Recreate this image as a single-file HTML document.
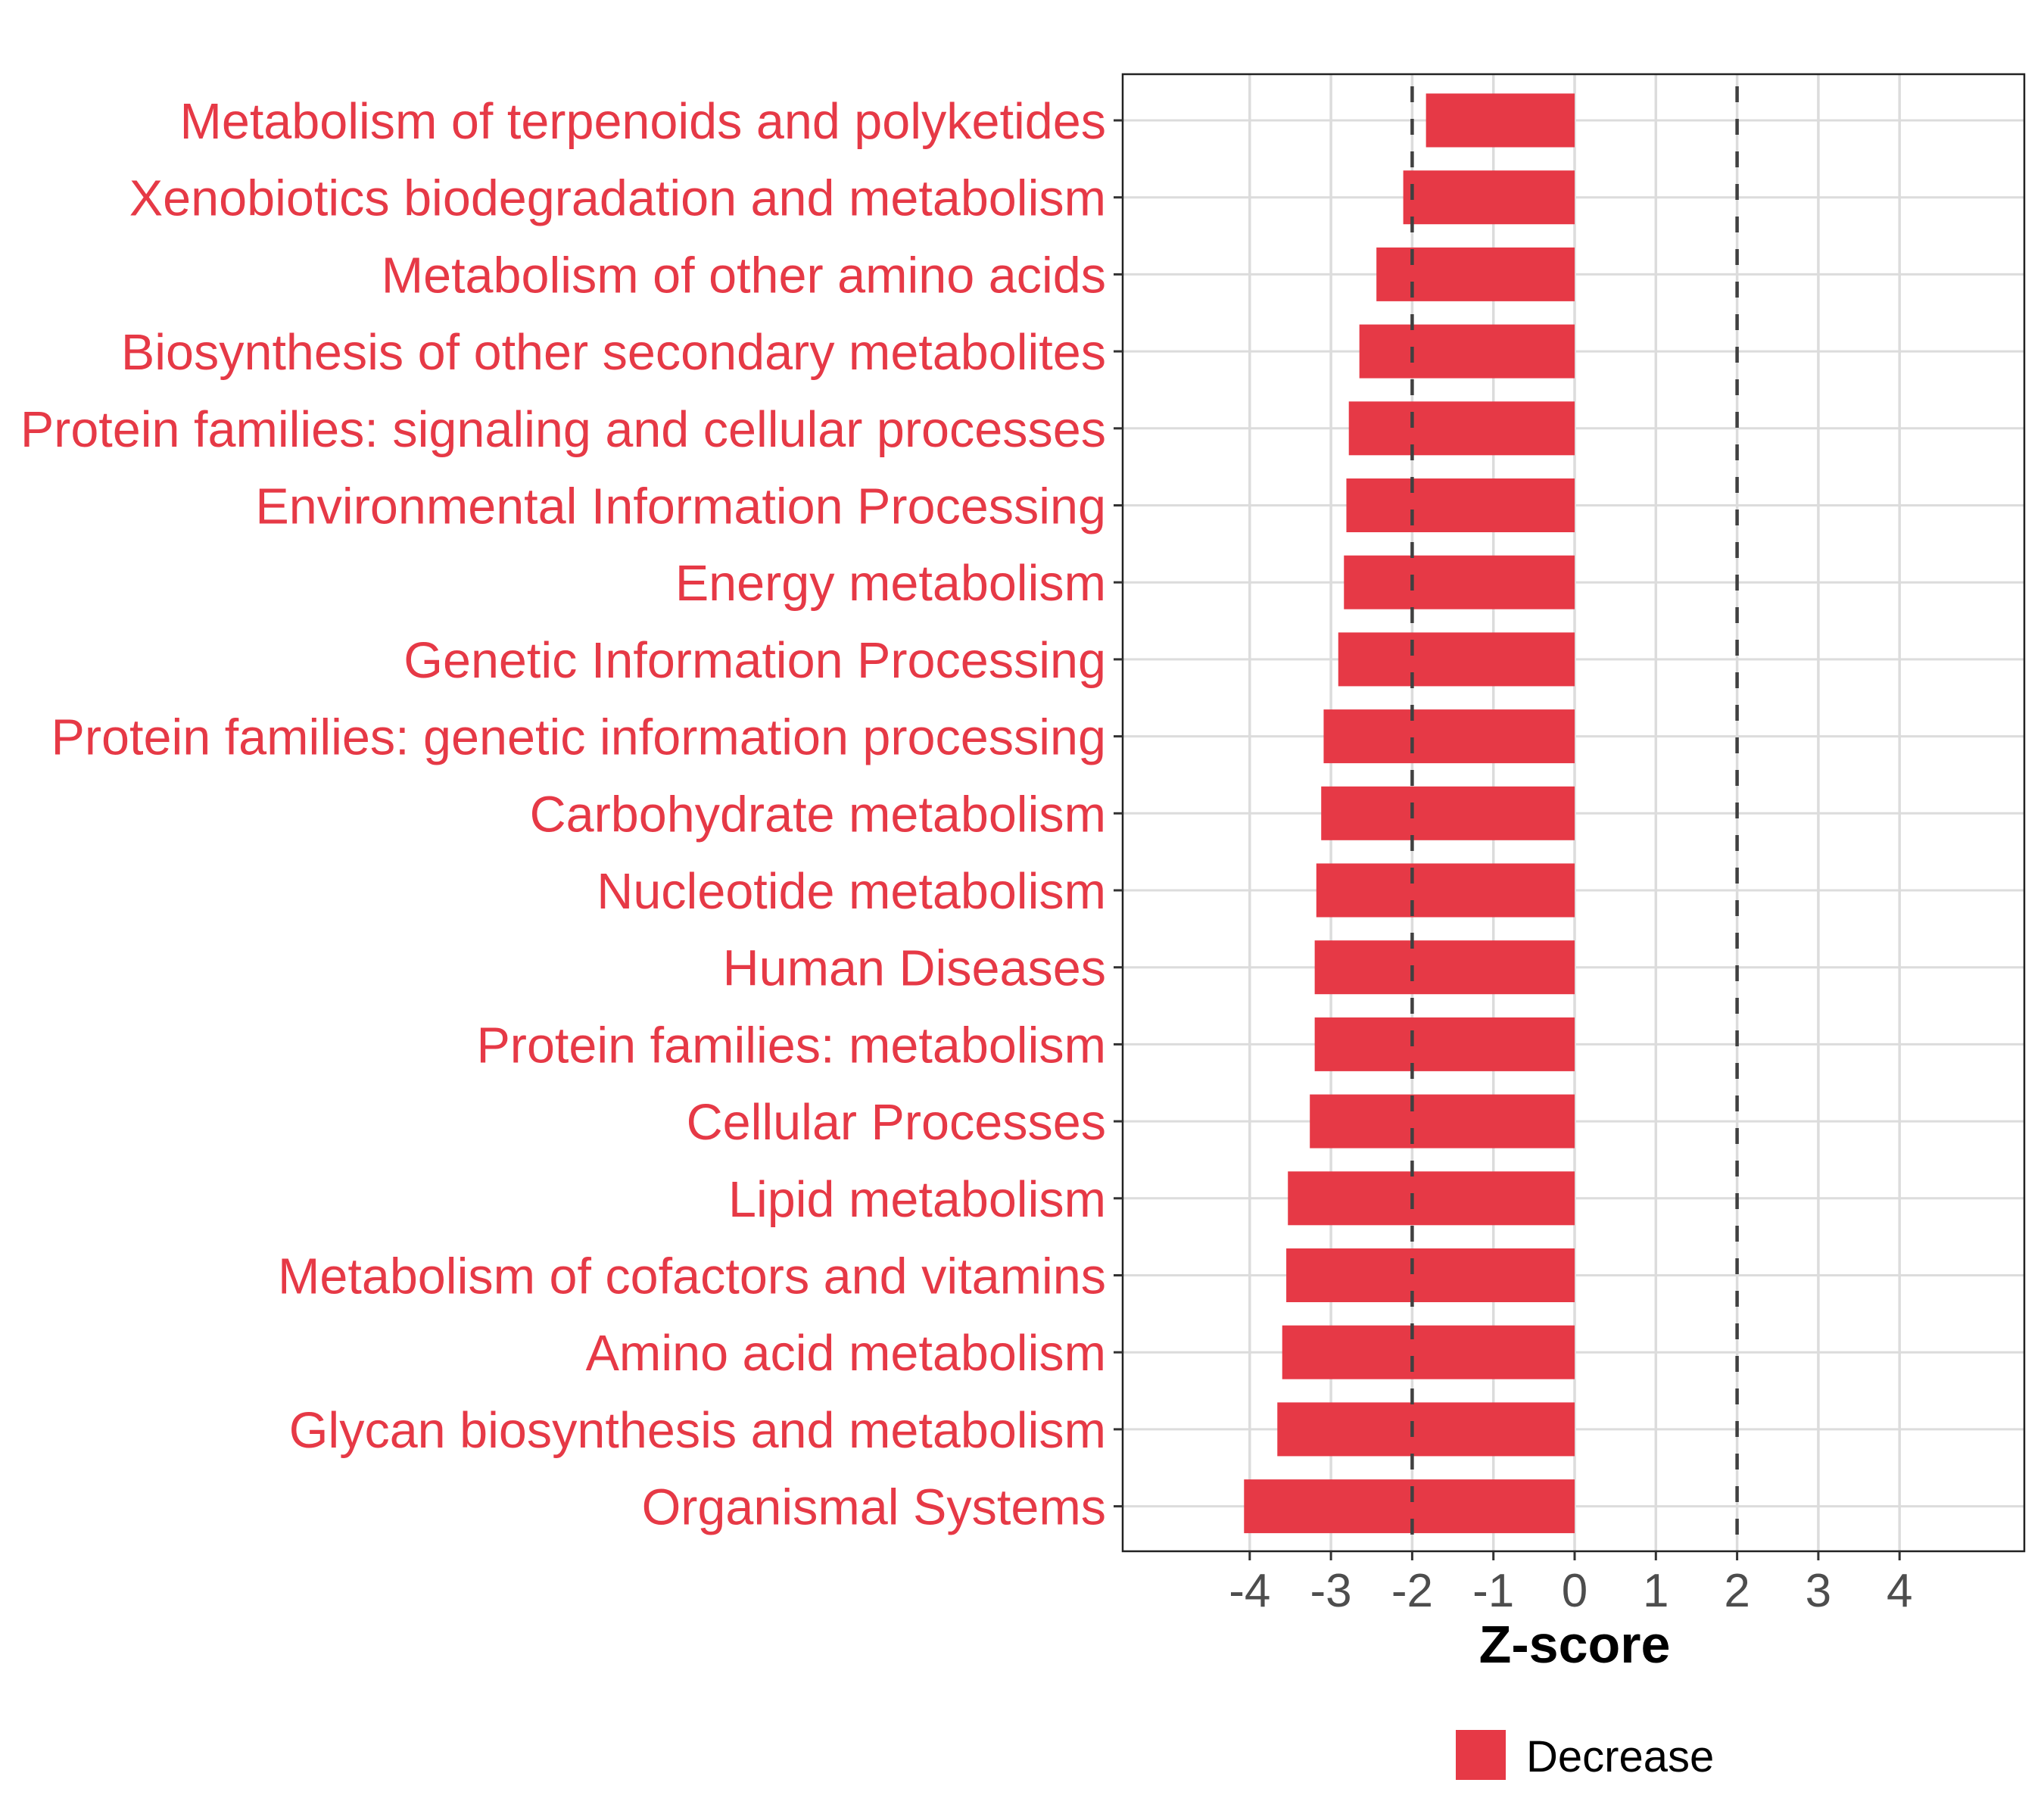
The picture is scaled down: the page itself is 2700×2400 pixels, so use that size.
<!DOCTYPE html>
<html><head><meta charset="utf-8"><style>html,body{margin:0;padding:0;background:#fff}svg{display:block}</style></head>
<body>
<svg id="chart" width="2700" height="2400" viewBox="0 0 2700 2400" xmlns="http://www.w3.org/2000/svg" font-family="Liberation Sans, sans-serif">
<rect width="2700" height="2400" fill="#fff"/>
<g id="grid"></g>
<g id="bars"></g>
<g id="ref"></g>
<rect x="1483" y="98" width="1191" height="1951" fill="none" stroke="#222" stroke-width="2.5"/>
<g id="ylab"></g>
<g id="xlab"></g>
<text x="2080" y="2196" text-anchor="middle" font-size="70" font-weight="bold" fill="#000">Z-score</text>
<g>
<rect x="1923" y="2285" width="66" height="66" fill="#e63946"/>
<text x="2016" y="2340" font-size="58" fill="#000">Decrease</text>
</g>
</svg>
<script>
const categories = ["Metabolism of terpenoids and polyketides","Xenobiotics biodegradation and metabolism","Metabolism of other amino acids","Biosynthesis of other secondary metabolites","Protein families: signaling and cellular processes","Environmental Information Processing","Energy metabolism","Genetic Information Processing","Protein families: genetic information processing","Carbohydrate metabolism","Nucleotide metabolism","Human Diseases","Protein families: metabolism","Cellular Processes","Lipid metabolism","Metabolism of cofactors and vitamins","Amino acid metabolism","Glycan biosynthesis and metabolism","Organismal Systems"];
const zscores = [-1.83,-2.11,-2.44,-2.65,-2.78,-2.81,-2.84,-2.91,-3.09,-3.12,-3.18,-3.20,-3.20,-3.26,-3.53,-3.55,-3.60,-3.66,-4.07];
const xTicks = [-4,-3,-2,-1,0,1,2,3,4];
const thresholds = [-2,2];

const NS="http://www.w3.org/2000/svg";
const x = v => 2080 + v*107.3;
const y = i => 159 + i*101.7;
function mk(tag, attrs, parent){const e=document.createElementNS(NS,tag);for(const k in attrs)e.setAttribute(k,attrs[k]);document.getElementById(parent).appendChild(e);return e;}

xTicks.forEach(t=>{
  const g=mk('line',{x1:x(t),x2:x(t),y1:98,y2:2049,stroke:'#dcdcdc','stroke-width':3.5},'grid');
  
  
  const tk=mk('line',{x1:x(t),x2:x(t),y1:2049,y2:2061,stroke:'#333','stroke-width':3},'xlab');
  
  
  const tx=mk('text',{x:x(t),y:2122,'text-anchor':'middle','font-size':62,fill:'#4d4d4d'},'xlab');
  
  
  tx.textContent=String(t);
});
categories.forEach((c,i)=>{
  const gl=mk('line',{x1:1483,x2:2674,y1:y(i),y2:y(i),stroke:'#dcdcdc','stroke-width':3},'grid');
  
  
  const v=zscores[i];
  const b=mk('rect',{x:Math.min(x(v),x(0)),y:y(i)-35.5,width:Math.abs(x(v)-x(0)),height:71,fill:'#e63946'},'bars');
  
  
  const tk=mk('line',{x1:1471,x2:1483,y1:y(i),y2:y(i),stroke:'#333','stroke-width':3},'ylab');
  
  
  const t=mk('text',{x:1461,y:y(i)+24,'text-anchor':'end','font-size':66.5,fill:'#e63946'},'ylab');
  
  
  t.textContent=c;
});
thresholds.forEach(t=>{
  const l=mk('line',{x1:x(t),x2:x(t),y1:98,y2:2049,stroke:'#404040','stroke-width':4.5,'stroke-dasharray':'21,22','stroke-dashoffset':'-16'},'ref');
  
  
});
</script>
</body></html>
